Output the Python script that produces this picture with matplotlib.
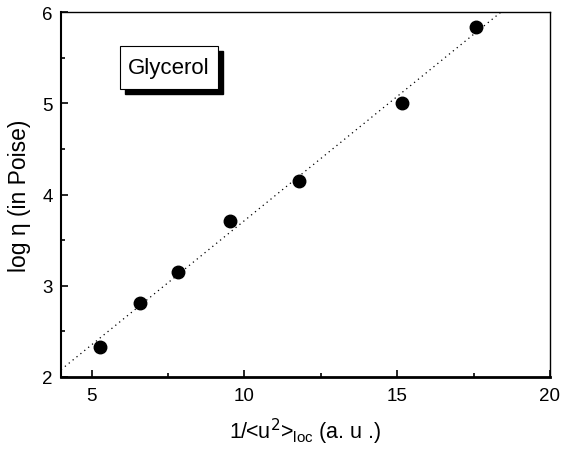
import matplotlib
matplotlib.use("Agg")
import matplotlib.pyplot as plt
from matplotlib.patches import Rectangle

plt.rcParams['font.family'] = ['Liberation Sans', 'DejaVu Sans']

x_vals = [5.26, 6.60, 7.83, 9.53, 11.78, 15.17, 17.57]
y_vals = [2.33, 2.81, 3.15, 3.71, 4.15, 5.00, 5.84]
fit_x = [4.0, 18.4]
fit_y = [2.08, 6.0]
x_ticks = [5, 10, 15, 20]
y_ticks = [2, 3, 4, 5, 6]

fig = plt.figure(figsize=(5.61, 4.52), dpi=100)
ax = fig.add_axes([61/561, 1-378/452, (550-61)/561, (378-13)/452])

ax.plot(fit_x, fit_y, linestyle=(0, (1, 3)), color='black', lw=0.9)
ax.plot(x_vals, y_vals, 'o', color='black', markersize=9)

ax.set_xlim(4, 20)
ax.set_ylim(2, 6)
ax.set_xticks(x_ticks)
ax.set_yticks(y_ticks)
ax.set_xticks([7.5, 12.5, 17.5], minor=True)
ax.set_yticks([2.5, 3.5, 4.5, 5.5], minor=True)
ax.tick_params(which='both', direction='in', top=False, right=False, labelsize=13.5, width=1.2)
ax.tick_params(which='major', length=5)
ax.tick_params(which='minor', length=3)
ax.tick_params(axis='x', pad=7)
ax.tick_params(axis='y', pad=6)
ax.spines['bottom'].set_linewidth(2.0)
ax.spines['left'].set_linewidth(1.5)
ax.spines['top'].set_linewidth(1.0)
ax.spines['right'].set_linewidth(1.0)

ax.set_xlabel(r'1/<u$^{2}$>$_{\mathregular{loc}}$ (a. u .)', fontsize=15.5, labelpad=9)
ax.set_ylabel('log η (in Poise)', fontsize=16.5, labelpad=8)

# Glycerol box with shadow (figure pixel coords)
bx0, by0, bw, bh = 120, 47, 98, 43
sh = 5
fig.patches.append(Rectangle(((bx0+sh)/561, 1-(by0+bh+sh)/452), bw/561, bh/452,
                             transform=fig.transFigure, facecolor='black', edgecolor='black', zorder=3))
fig.patches.append(Rectangle((bx0/561, 1-(by0+bh)/452), bw/561, bh/452,
                             transform=fig.transFigure, facecolor='white', edgecolor='black', lw=0.8, zorder=4))
fig.text((bx0+bw/2)/561, 1-(by0+bh/2)/452, 'Glycerol', ha='center', va='center', fontsize=16, zorder=5)

fig.savefig('out.png', dpi=100)
